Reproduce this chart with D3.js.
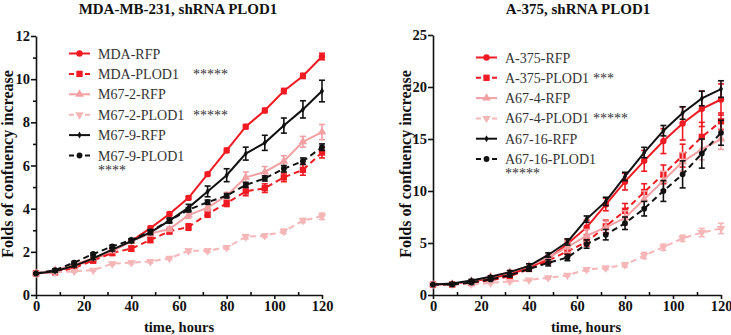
<!DOCTYPE html>
<html>
<head>
<meta charset="utf-8">
<script src="https://cdn.jsdelivr.net/npm/d3@7"></script>
<style>
  body { margin: 0; background: #fff; }
  svg { display: block; font-family: "Liberation Serif", "Times New Roman", serif; }
  .axis path, .axis line { stroke: #111; stroke-width: 1.6; }
  .axis text { font-size: 14.5px; font-weight: bold; fill: #111; font-family: "Liberation Serif", serif; }
  .title, .label { font-weight: bold; fill: #111; }
  .legend text { font-size: 14px; fill: #333; }
</style>
</head>
<body>
<div id="chart"></div>
<script>
// time points (hours)
const hours = [0, 8, 16, 24, 32, 40, 48, 56, 64, 72, 80, 88, 96, 104, 112, 120];

// MDA-MB-231 panel
const mdaRfp        = [1.0, 1.1, 1.35, 1.65, 2.05, 2.5, 3.1, 3.75, 4.5, 5.6, 6.7, 7.8, 8.55, 9.45, 10.15, 11.05];
const mdaRfpErr     = [0.05, 0.05, 0.06, 0.07, 0.07, 0.08, 0.08, 0.08, 0.08, 0.08, 0.1, 0.1, 0.1, 0.12, 0.12, 0.15];
const mdaPlod1      = [1.0, 1.05, 1.25, 1.6, 1.95, 2.15, 2.55, 2.95, 3.15, 3.75, 4.25, 4.8, 4.95, 5.45, 5.8, 6.6];
const mdaPlod1Err   = [0.05, 0.08, 0.1, 0.12, 0.12, 0.12, 0.12, 0.12, 0.15, 0.15, 0.15, 0.2, 0.2, 0.2, 0.25, 0.25];
const m672Rfp       = [1.0, 1.15, 1.4, 1.7, 2.05, 2.5, 2.85, 3.05, 3.7, 4.05, 4.6, 5.45, 5.7, 6.2, 7.1, 7.55];
const m672RfpErr    = [0.05, 0.05, 0.06, 0.06, 0.08, 0.08, 0.1, 0.1, 0.15, 0.15, 0.15, 0.25, 0.25, 0.25, 0.25, 0.35];
const m672Plod1     = [1.0, 1.05, 1.1, 1.15, 1.45, 1.5, 1.55, 1.7, 2.05, 2.05, 2.2, 2.7, 2.75, 2.95, 3.45, 3.65];
const m672Plod1Err  = [0.03, 0.05, 0.05, 0.05, 0.06, 0.06, 0.06, 0.06, 0.08, 0.08, 0.08, 0.1, 0.08, 0.1, 0.1, 0.15];
const m679Rfp       = [1.0, 1.1, 1.35, 1.7, 2.1, 2.5, 2.9, 3.45, 4.05, 4.8, 5.55, 6.55, 7.05, 7.85, 8.6, 9.45];
const m679RfpErr    = [0.03, 0.05, 0.05, 0.06, 0.06, 0.08, 0.1, 0.12, 0.15, 0.25, 0.3, 0.3, 0.35, 0.35, 0.4, 0.5];
const m679Plod1     = [1.0, 1.15, 1.5, 1.9, 2.25, 2.55, 2.95, 3.45, 3.95, 4.3, 4.6, 5.1, 5.4, 5.85, 6.2, 6.85];
const m679Plod1Err  = [0.03, 0.05, 0.05, 0.05, 0.06, 0.06, 0.08, 0.08, 0.1, 0.1, 0.1, 0.12, 0.12, 0.15, 0.15, 0.15];

// A-375 panel
const a375Rfp       = [1.0, 1.05, 1.3, 1.6, 2.0, 2.6, 3.5, 4.9, 6.5, 8.7, 10.9, 12.9, 14.8, 16.5, 17.9, 18.8];
const a375RfpErr    = [0.05, 0.1, 0.1, 0.1, 0.15, 0.2, 0.25, 0.4, 0.7, 0.6, 0.8, 1.0, 1.2, 1.6, 1.7, 1.5];
const a375Plod1     = [1.0, 1.0, 1.15, 1.4, 1.8, 2.5, 3.3, 4.2, 5.1, 6.6, 8.1, 9.9, 11.6, 13.4, 15.2, 16.7];
const a375Plod1Err  = [0.05, 0.1, 0.1, 0.15, 0.15, 0.2, 0.3, 0.5, 0.4, 0.6, 0.7, 0.8, 0.9, 1.1, 1.4, 0.8];
const a674Rfp       = [1.0, 1.05, 1.35, 1.75, 2.2, 2.8, 3.6, 4.6, 5.7, 6.5, 7.4, 9.2, 11.0, 12.8, 14.0, 15.0];
const a674RfpErr    = [0.05, 0.1, 0.1, 0.1, 0.15, 0.2, 0.3, 0.5, 0.6, 0.6, 0.7, 0.8, 0.9, 0.9, 1.0, 1.0];
const a674Plod1     = [1.0, 1.0, 1.05, 1.15, 1.3, 1.45, 1.65, 1.9, 2.45, 2.6, 2.9, 3.8, 4.6, 5.45, 6.0, 6.4];
const a674Plod1Err  = [0.05, 0.05, 0.05, 0.05, 0.05, 0.1, 0.1, 0.1, 0.15, 0.15, 0.2, 0.3, 0.3, 0.3, 0.4, 0.5];
const a6716Rfp      = [1.0, 1.1, 1.4, 1.75, 2.2, 2.8, 3.85, 5.1, 7.3, 9.0, 11.4, 13.7, 15.8, 17.5, 18.9, 19.8];
const a6716RfpErr   = [0.05, 0.1, 0.1, 0.1, 0.15, 0.2, 0.2, 0.3, 0.3, 0.4, 0.4, 0.5, 0.5, 0.6, 0.7, 0.8];
const a6716Plod1    = [1.0, 1.0, 1.2, 1.5, 1.9, 2.5, 3.1, 3.6, 4.9, 5.8, 6.9, 8.3, 10.0, 11.6, 13.6, 15.6];
const a6716Plod1Err = [0.05, 0.1, 0.1, 0.1, 0.15, 0.2, 0.3, 0.3, 0.4, 0.5, 0.6, 0.7, 1.0, 1.3, 1.4, 1.2];

const RED = "#f01a22", PINK = "#f3a0a3", LPINK = "#f5b6b8", BLACK = "#111";

const svg = d3.select("#chart").append("svg")
  .attr("width", 731)
  .attr("height", 335);

function drawPanel(cfg) {
  const x = d3.scaleLinear().domain([0, 120]).range([cfg.left, cfg.right]);
  const y = d3.scaleLinear().domain([0, cfg.yMax]).range([cfg.bottom, cfg.top]);
  const g = svg.append("g");

  // minor ticks
  g.append("g")
    .attr("class", "axis")
    .attr("transform", `translate(0,${cfg.bottom})`)
    .call(d3.axisBottom(x).tickValues(d3.range(10, 120, 20)).tickSize(-3).tickFormat(""))
    .select(".domain").remove();
  if (cfg.yMinor) {
    g.append("g")
      .attr("class", "axis")
      .attr("transform", `translate(${cfg.left},0)`)
      .call(d3.axisLeft(y).tickValues(cfg.yMinor).tickSize(3).tickFormat(""))
      .select(".domain").remove();
  }

  g.append("g")
    .attr("class", "axis")
    .attr("transform", `translate(0,${cfg.bottom})`)
    .call(d3.axisBottom(x).tickValues(d3.range(0, 121, 20)).tickSizeInner(4).tickSizeOuter(0).tickPadding(2));

  g.append("g")
    .attr("class", "axis")
    .attr("transform", `translate(${cfg.left},0)`)
    .call(d3.axisLeft(y).tickValues(cfg.yTicks).tickSizeInner(5).tickSizeOuter(0).tickPadding(1));

  g.append("text")
    .attr("class", "title")
    .attr("x", cfg.titleX)
    .attr("y", 14)
    .attr("text-anchor", "middle")
    .style("font-size", "15px")
    .text(cfg.title);

  g.append("text")
    .attr("class", "label")
    .attr("x", cfg.xLabelX)
    .attr("y", 332)
    .attr("text-anchor", "middle")
    .style("font-size", "14.5px")
    .text("time, hours");

  g.append("text")
    .attr("class", "label")
    .attr("transform", "rotate(-90)")
    .attr("x", -164)
    .attr("y", cfg.yLabelX)
    .attr("text-anchor", "middle")
    .style("font-size", "16px")
    .text("Folds of confuency increase");

  const line = d3.line()
    .x((d, i) => x(hours[i]))
    .y(d => y(d));

  cfg.series.forEach(s => {
    const sg = g.append("g");
    // error bars
    sg.selectAll(".err")
      .data(s.values)
      .join("g")
      .each(function(d, i) {
        const e = s.err[i];
        const px = x(hours[i]);
        const el = d3.select(this).attr("stroke", s.color).attr("stroke-width", 1.6);
        el.append("line").attr("x1", px).attr("x2", px).attr("y1", y(d - e)).attr("y2", y(d + e));
        el.append("line").attr("x1", px - 3).attr("x2", px + 3).attr("y1", y(d - e)).attr("y2", y(d - e));
        el.append("line").attr("x1", px - 3).attr("x2", px + 3).attr("y1", y(d + e)).attr("y2", y(d + e));
      });

    sg.append("path")
      .datum(s.values)
      .attr("fill", "none")
      .attr("stroke", s.color)
      .attr("stroke-width", 2)
      .attr("stroke-dasharray", s.dashed ? "6,4" : null)
      .attr("d", line);

    sg.selectAll(".pt")
      .data(s.values)
      .join("path")
      .attr("transform", (d, i) => `translate(${x(hours[i])},${y(d)})`)
      .attr("d", d3.symbol().type(s.symbol).size(s.size))
      .attr("fill", s.color);
  });

  // legend
  const lg = g.append("g").attr("class", "legend");
  cfg.series.forEach((s, i) => {
    const ly = cfg.legendY + i * cfg.legendStep;
    lg.append("line")
      .attr("x1", cfg.legendX).attr("x2", cfg.legendX + 21)
      .attr("y1", ly).attr("y2", ly)
      .attr("stroke", s.color)
      .attr("stroke-width", 2)
      .attr("stroke-dasharray", s.dashed ? "5,3" : null);
    lg.append("path")
      .attr("transform", `translate(${cfg.legendX + 10.5},${ly})`)
      .attr("d", d3.symbol().type(s.symbol).size(s.size))
      .attr("fill", s.color);
    lg.append("text")
      .attr("x", cfg.legendX + 29)
      .attr("y", ly + 5)
      .text(s.name);
    if (s.stars) {
      lg.append("text")
        .attr("x", cfg.starsX)
        .attr("y", ly + 5)
        .text(s.stars);
    }
  });
  lg.append("text")
    .attr("x", cfg.legendX + 29)
    .attr("y", cfg.legendY + cfg.series.length * cfg.legendStep - 1)
    .text(cfg.extraStars);
}

const triDown = {
  draw(ctx, size) {
    const s = Math.sqrt(size / (Math.sqrt(3) / 4));
    const h = s * Math.sqrt(3) / 2;
    ctx.moveTo(0, h * 2 / 3);
    ctx.lineTo(s / 2, -h / 3);
    ctx.lineTo(-s / 2, -h / 3);
    ctx.closePath();
  }
};

drawPanel({
  left: 36, right: 322, top: 36, bottom: 295,
  yMax: 12, yTicks: d3.range(0, 13, 2), yMinor: d3.range(1, 12, 2),
  title: "MDA-MB-231, shRNA PLOD1", titleX: 178, yLabelX: 13, xLabelX: 179,
  legendX: 69, legendY: 53.5, legendStep: 20.4, starsX: 193, extraStars: "****",
  series: [
    { name: "MDA-RFP", values: mdaRfp, err: mdaRfpErr, color: RED, dashed: false, symbol: d3.symbolCircle, size: 32 },
    { name: "MDA-PLOD1", values: mdaPlod1, err: mdaPlod1Err, color: RED, dashed: true, symbol: d3.symbolSquare, size: 40, stars: "*****" },
    { name: "M67-2-RFP", values: m672Rfp, err: m672RfpErr, color: PINK, dashed: false, symbol: d3.symbolTriangle, size: 32 },
    { name: "M67-2-PLOD1", values: m672Plod1, err: m672Plod1Err, color: LPINK, dashed: true, symbol: triDown, size: 32, stars: "*****" },
    { name: "M67-9-RFP", values: m679Rfp, err: m679RfpErr, color: BLACK, dashed: false, symbol: d3.symbolDiamond, size: 14 },
    { name: "M67-9-PLOD1", values: m679Plod1, err: m679Plod1Err, color: BLACK, dashed: true, symbol: d3.symbolCircle, size: 26 }
  ]
});

drawPanel({
  left: 433, right: 721, top: 35, bottom: 295,
  yMax: 25, yTicks: d3.range(0, 26, 5), yMinor: null,
  title: "A-375, shRNA PLOD1", titleX: 578, yLabelX: 411, xLabelX: 586,
  legendX: 476, legendY: 57.5, legendStep: 20.3, starsX: 593, extraStars: "*****",
  series: [
    { name: "A-375-RFP", values: a375Rfp, err: a375RfpErr, color: RED, dashed: false, symbol: d3.symbolCircle, size: 32 },
    { name: "A-375-PLOD1", values: a375Plod1, err: a375Plod1Err, color: RED, dashed: true, symbol: d3.symbolSquare, size: 40, stars: "***" },
    { name: "A67-4-RFP", values: a674Rfp, err: a674RfpErr, color: PINK, dashed: false, symbol: d3.symbolTriangle, size: 32 },
    { name: "A67-4-PLOD1", values: a674Plod1, err: a674Plod1Err, color: LPINK, dashed: true, symbol: triDown, size: 32, stars: "*****" },
    { name: "A67-16-RFP", values: a6716Rfp, err: a6716RfpErr, color: BLACK, dashed: false, symbol: d3.symbolDiamond, size: 14 },
    { name: "A67-16-PLOD1", values: a6716Plod1, err: a6716Plod1Err, color: BLACK, dashed: true, symbol: d3.symbolCircle, size: 26 }
  ]
});
</script>
</body>
</html>
